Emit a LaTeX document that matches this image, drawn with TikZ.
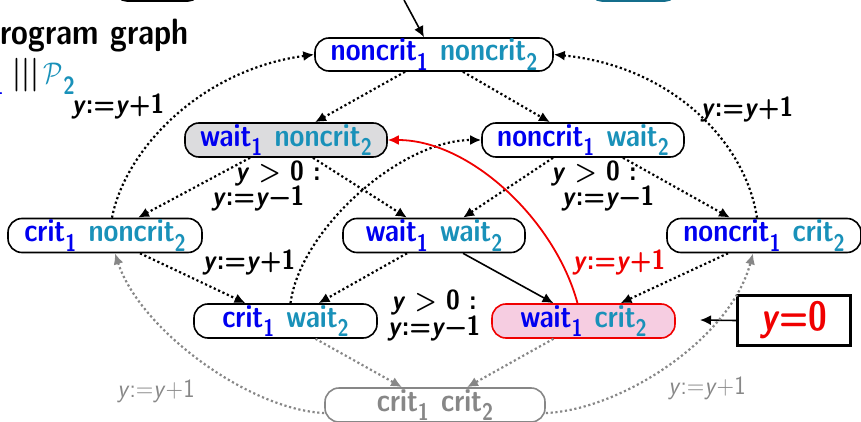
\documentclass[tikz,border=0pt]{standalone}
\usetikzlibrary{arrows.meta}
\definecolor{cA}{RGB}{0,0,240}
\definecolor{cB}{RGB}{25,145,185}
\definecolor{cTeal}{RGB}{20,110,140}
\definecolor{gfill}{RGB}{220,220,222}
\definecolor{pfill}{RGB}{246,205,225}
\definecolor{rd}{RGB}{240,0,0}
\definecolor{gy}{RGB}{135,135,135}
\newcommand{\sbs}[1]{\raisebox{-0.3em}{\scalebox{0.74}{#1}}}
\newcommand{\pa}[1]{\textcolor{cA}{#1\sbs{1}}}
\newcommand{\pb}[1]{\textcolor{cB}{#1\sbs{2}}}
\newcommand{\yv}{\textsl{y}}
\newcommand{\gap}{\hspace{0.45em}}
\newcommand{\T}[1]{\scalebox{1}[1.2]{#1}}
\newcommand{\TL}[1]{\scalebox{1}[1.1]{#1}}
\tikzset{
  st/.style={draw, line width=1.6pt, rounded corners=14pt, minimum height=34pt, inner sep=0pt, fill=white},
  tr/.style={line width=2.2pt, dash pattern=on 2.2pt off 2.6pt, -{Latex[length=11pt,width=10pt]}},
  gtr/.style={tr, draw=gy},
  sol/.style={line width=1.6pt, -{Latex[length=11pt,width=10pt]}},
  lb/.style={inner sep=0pt, font=\fontsize{25}{28}\sffamily\bfseries\selectfont},
  glb/.style={inner sep=0pt, text=gy, font=\fontsize{24}{28}\sffamily\mdseries\selectfont}
}
\begin{document}
\begin{tikzpicture}[x=1pt,y=-1pt, font=\fontsize{27}{30}\sffamily\bfseries\selectfont]
\useasboundingbox (0,0) rectangle (861,422);
\clip (0,0) rectangle (861,422);
% partial boxes at top
\draw[line width=1.6pt, rounded corners=12pt] (115,-40) rectangle (200,1);
\draw[cTeal, line width=1.6pt, rounded corners=12pt] (590,-40) rectangle (677,1);
% title
\node[anchor=base west, inner sep=0pt, font=\fontsize{30.5}{32}\sffamily\bfseries\selectfont] (title) at (-21,45) {\T{Program graph}};
\node[anchor=base east, inner sep=0pt, font=\fontsize{28}{30}\sffamily\bfseries\selectfont] (p1) at (4,84) {\T{\textcolor{cA}{$\mathcal{P}$\sbs{1}}}};
\node[anchor=base west, inner sep=0pt, font=\fontsize{28}{30}\sffamily\bfseries\selectfont] (par) at (12,84) {\T{|||\hspace{5pt}\textcolor{cB}{$\mathcal{P}$\sbs{2}}}};
% states
\node[st, minimum width=238pt, minimum height=33pt] (n1n2) at (434,54.5) {\T{\pa{noncrit}\gap\pb{noncrit}}};
\node[st, minimum width=202pt, fill=gfill] (w1n2) at (286,140) {\T{\pa{wait}\gap\pb{noncrit}}};
\node[st, minimum width=202pt] (n1w2) at (583,140) {\T{\pa{noncrit}\gap\pb{wait}}};
\node[st, minimum width=194pt] (c1n2) at (105,235.5) {\T{\pa{crit}\gap\pb{noncrit}}};
\node[st, minimum width=182pt] (w1w2) at (434,235.5) {\T{\pa{wait}\gap\pb{wait}}};
\node[st, minimum width=194pt] (n1c2) at (764,235.5) {\T{\pa{noncrit}\gap\pb{crit}}};
\node[st, minimum width=183pt] (c1w2) at (285.5,321) {\T{\pa{crit}\gap\pb{wait}}};
\node[st, minimum width=183pt, draw=rd, fill=pfill] (w1c2) at (583.5,321) {\T{\pa{wait}\gap\pb{crit}}};
\node[st, minimum width=220pt, draw=gy, text=gy] (c1c2) at (435,405) {\T{crit\sbs{1}\gap crit\sbs{2}}};
% y=0 box
\node[draw, line width=2.8pt, minimum width=113pt, minimum height=50pt, inner sep=0pt, text=rd, font=\fontsize{34}{36}\sffamily\bfseries\selectfont] (y0) at (794,320.5) {\T{\yv=0}};
\coordinate (y0tip) at (700,320);
\draw[sol] (y0.west) -- (y0tip);
% initial arrow
\coordinate (init) at (404,0);
\draw[sol] (init) -- ([xshift=-10pt]n1n2.north);
% transitions
\draw[tr] ([xshift=-29pt]n1n2.south) -- ([xshift=29pt]w1n2.north);
\draw[tr] ([xshift=29pt]n1n2.south) -- ([xshift=-33pt]n1w2.north);
\draw[tr] ([xshift=-36pt]w1n2.south) -- ([xshift=33pt]c1n2.north);
\draw[tr] ([xshift=27pt]w1n2.south) -- ([xshift=-27pt]w1w2.north);
\draw[tr] ([xshift=-30pt]n1w2.south) -- ([xshift=29pt]w1w2.north);
\draw[tr] ([xshift=40pt]n1w2.south) -- ([xshift=-34pt]n1c2.north);
\draw[tr] ([xshift=35pt]c1n2.south) -- ([xshift=-40pt]c1w2.north);
\draw[tr] ([xshift=-27pt]w1w2.south) -- ([xshift=33pt]c1w2.north);
\draw[sol] ([xshift=29pt]w1w2.south) -- ([xshift=-30pt]w1c2.north);
\draw[tr] ([xshift=-36pt]n1c2.south) -- ([xshift=37pt]w1c2.north);
\draw[gtr] ([xshift=30pt]c1w2.south) -- ([xshift=-33pt]c1c2.north);
\draw[gtr] ([xshift=-30pt]w1c2.south) -- ([xshift=32pt]c1c2.north);
% curves
\draw[tr] ([xshift=5pt]c1w2.north) .. controls (300,230) and (400,140) .. (n1w2.west);
\draw[line width=1.8pt, rd, -{Latex[length=11pt,width=10pt]}] ([xshift=-6pt]w1c2.north) .. controls (555,220) and (470,140) .. (w1n2.east);
\draw[tr] ([xshift=7pt]c1n2.north) .. controls (125,150) and (200,70) .. (n1n2.west);
\draw[tr] ([xshift=-7pt]n1c2.north) .. controls (745,140) and (670,66) .. (n1n2.east);
\draw[gtr] ([yshift=-8pt]c1c2.west) .. controls (250,410) and (140,330) .. ([xshift=10pt]c1n2.south);
\draw[gtr] ([yshift=-8pt]c1c2.east) .. controls (620,410) and (730,340) .. ([xshift=-11pt]n1c2.south);
% labels
\node[lb] (l1) at (118,106) {\TL{\yv:=\yv+1}};
\node[lb] (l2) at (747,109) {\TL{\yv:=\yv+1}};
\node[lb] (l3a) at (278,173) {\TL{\yv\ >\ 0\ :}};
\node[lb] (l3b) at (258,198) {\TL{\yv:=\yv−1}};
\node[lb] (l4a) at (594,173) {\TL{\yv\ >\ 0\ :}};
\node[lb] (l4b) at (608,198) {\TL{\yv:=\yv−1}};
\node[lb] (l5) at (249,262) {\TL{\yv:=\yv+1}};
\node[lb] (l6a) at (434,302) {\TL{\yv\ >\ 0\ :}};
\node[lb] (l6b) at (434,328) {\TL{\yv:=\yv−1}};
\node[lb, text=rd] (l7) at (619,262) {\TL{\yv:=\yv+1}};
\node[glb] (l8) at (156,391) {\TL{\yv:=\yv+1}};
\node[glb] (l9) at (707,388) {\TL{\yv:=\yv+1}};
\end{tikzpicture}
\end{document}
